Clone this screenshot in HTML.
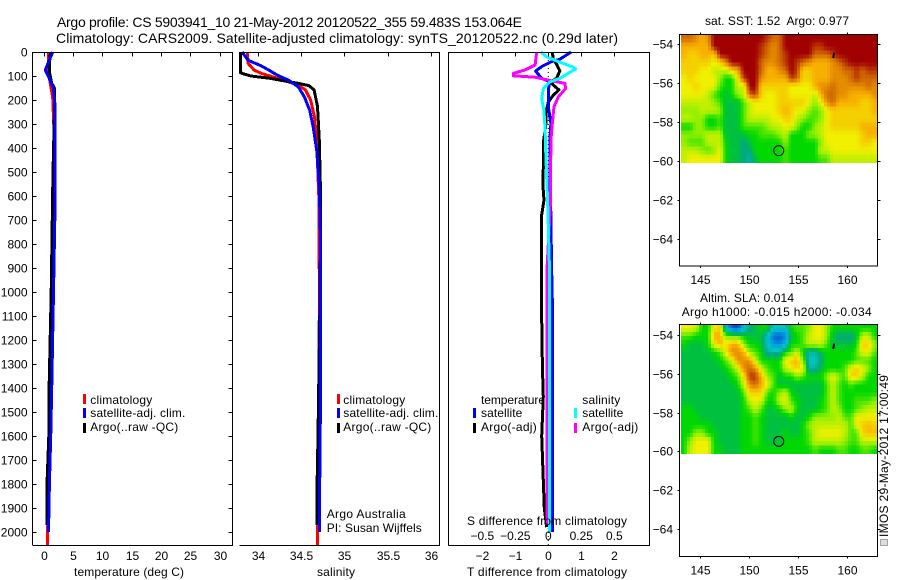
<!DOCTYPE html>
<html>
<head>
<meta charset="utf-8">
<title>Argo profile</title>
<style>
html,body{margin:0;padding:0;background:#fff;}
svg{display:block;}
text{font-family:"Liberation Sans",sans-serif;font-size:12px;fill:#000;}
.t14{font-size:14px;}
.sp{stroke:#000;stroke-width:1;fill:none;shape-rendering:crispEdges;}
.sw{shape-rendering:crispEdges;}
</style>
</head>
<body>
<svg id="chart" xmlns="http://www.w3.org/2000/svg" width="900" height="580" viewBox="0 0 900 580">
<rect width="900" height="580" fill="#fff"/>
<text class="t14" x="57" y="27" textLength="465">Argo profile: CS 5903941_10 21-May-2012 20120522_355 59.483S 153.064E</text>
<text class="t14" x="56" y="43" textLength="562">Climatology: CARS2009. Satellite-adjusted climatology: synTS_20120522.nc (0.29d later)</text>

<g id="maps"></g>
<g id="profiles"></g>
<g id="ticks"></g>

<path class="sp" d="M32.5 545V52.5H232.5V545.5H32.5"/>
<path class="sp" d="M239.5 52.5H439.5V545.5H239.5"/>
<path class="sp" d="M448.5 545.5V52.5H649.5V545.5H448.5"/>
<rect class="sp" x="679.5" y="34.5" width="198" height="231.5"/>
<rect class="sp" x="679.5" y="324.5" width="198" height="232"/>

<text x="74" y="576" textLength="110">temperature (deg C)</text>
<text x="317" y="576" textLength="38">salinity</text>
<text x="467" y="576" textLength="160">T difference from climatology</text>
<text x="467" y="525" textLength="160">S difference from climatology</text>

<g>
<rect class="sw" x="83" y="394" width="3" height="10" fill="#f00"/>
<text x="90.3" y="404" textLength="62">climatology</text>
<rect class="sw" x="83" y="408" width="3" height="10" fill="#00f"/>
<text x="90.3" y="417" textLength="95">satellite-adj. clim.</text>
<rect class="sw" x="83" y="423" width="3" height="10" fill="#000"/>
<text x="90.3" y="431" textLength="88">Argo(..raw -QC)</text>
</g>
<g>
<rect class="sw" x="337" y="394" width="3" height="10" fill="#f00"/>
<text x="343.3" y="404" textLength="62">climatology</text>
<rect class="sw" x="337" y="408" width="3" height="10" fill="#00f"/>
<text x="343.3" y="417" textLength="95">satellite-adj. clim.</text>
<rect class="sw" x="337" y="423" width="3" height="10" fill="#000"/>
<text x="343.3" y="431" textLength="88">Argo(..raw -QC)</text>
</g>
<text x="326.7" y="518" textLength="79">Argo Australia</text>
<text x="326.7" y="532" textLength="95">PI: Susan Wijffels</text>

<g>
<text x="481" y="404" textLength="64">temperature</text>
<rect class="sw" x="473" y="408" width="3" height="10" fill="#00f"/>
<text x="481" y="417" textLength="41.3">satellite</text>
<rect class="sw" x="473" y="423" width="3" height="10" fill="#000"/>
<text x="481" y="431" textLength="55.7">Argo(-adj)</text>
<text x="582.3" y="404" textLength="38">salinity</text>
<rect class="sw" x="574" y="408" width="3" height="10" fill="#0ff"/>
<text x="582.3" y="417" textLength="41">satellite</text>
<rect class="sw" x="574" y="423" width="3" height="10" fill="#f0f"/>
<text x="582.3" y="431" textLength="56">Argo(-adj)</text>
</g>

<text x="705" y="25" textLength="144" xml:space="preserve">sat. SST: 1.52  Argo: 0.977</text>
<text x="700" y="302" textLength="94">Altim. SLA: 0.014</text>
<text x="681.7" y="316" textLength="190">Argo h1000: -0.015 h2000: -0.034</text>

<text transform="translate(888,537) rotate(-90)" textLength="162">IMOS 29-May-2012 17:00:49</text>
<rect x="880.5" y="539.5" width="7" height="6" fill="#ddd" stroke="#555" stroke-width="1" stroke-dasharray="1 1" class="sw"/>
</svg>

<script>
// ---------- temperature profile (deg C vs depth, m) ----------
const tempClimDepth = [0, 90, 110, 190, 400, 800, 1200, 1600, 2000, 2055];
const tempClim = [0.82, 0.85, 1.0, 1.57, 1.9, 1.8, 1.5, 1.1, 0.7, 0.65];
const tempSatDepth = [0, 40, 75, 100, 150, 230, 600, 1000, 1400, 1600, 1800, 2000];
const tempSat = [1.57, 0.88, 0.3, 0.82, 1.67, 2.0, 2.0, 1.7, 1.4, 1.22, 1.0, 0.85];
const tempArgoDepth = [0, 50, 90, 130, 150, 200, 520, 1000, 1400, 1600, 1800, 1970];
const tempArgo = [1.2, 1.0, 1.05, 1.4, 1.85, 1.9, 1.6, 1.31, 0.95, 0.9, 0.6, 0.56];

// ---------- salinity profile ----------
const salClimDepth = [0, 48, 76, 90, 104, 125, 138, 158, 200, 270, 368, 600, 1000, 1500, 2000, 2055];
const salClim = [33.88, 33.89, 33.96, 34.05, 34.18, 34.36, 34.47, 34.55, 34.61, 34.655, 34.68, 34.705, 34.712, 34.705, 34.69, 34.69];
const salSatDepth = [0, 35, 56, 76, 97, 118, 146, 188, 243, 312, 410, 562, 800, 1400, 1800, 2000];
const salSat = [33.82, 33.89, 34.03, 34.13, 34.23, 34.36, 34.47, 34.54, 34.6, 34.64, 34.68, 34.71, 34.725, 34.725, 34.715, 34.71];
const salArgoDepth = [0, 85, 89, 100, 110, 120, 130, 140, 158, 227, 368, 600, 1000, 1600, 1800, 1970];
const salArgo = [33.8, 33.8, 33.82, 33.92, 34.15, 34.3, 34.46, 34.59, 34.65, 34.69, 34.71, 34.725, 34.72, 34.695, 34.685, 34.685];

// ---------- difference profiles ----------
const diffTSatDepth = [0, 30, 40, 61, 79, 110, 124, 158, 228, 297, 367, 561, 617, 900, 1033, 1436, 2000];
const diffTSat = [0.687, 0.354, 0.1, -0.2, -0.384, -0.2, 0.05, 0, 0, 0.08, 0.05, 0.05, 0.07, 0.1, 0.12, 0.13, 0.13];
const diffTArgoDepth = [0, 30, 50, 79, 110, 124, 138, 158, 180, 209, 250, 297, 367, 561, 617, 686, 1033, 1311, 1436, 1600, 1900, 1980];
const diffTArgo = [0.12, 0.15, 0.25, 0.35, 0.25, 0.08, 0.15, 0.32, 0.15, 0, -0.07, -0.07, -0.14, -0.16, -0.13, -0.21, -0.21, -0.18, -0.15, -0.2, -0.12, -0.05];
const diffSSatDepth = [0, 20, 40, 61, 71, 88, 110, 124, 152, 194, 243, 312, 437, 617, 890, 2000];
const diffSSat = [-0.056, -0.013, 0.076, 0.177, 0.207, 0.152, 0.088, 0.013, -0.038, -0.05, -0.033, -0.025, -0.018, -0.005, 0.008, 0.009];
const diffSArgoDepth = [0, 54, 75, 89, 99, 105, 117, 131, 152, 187, 228, 297, 367, 640, 890, 1300, 1970];
const diffSArgo = [-0.088, -0.1, -0.177, -0.265, -0.265, -0.1, 0, 0.126, 0.131, 0.076, 0.043, 0.03, 0.02, 0.015, -0.008, -0.011, -0.011];

// ---------- tick labels ----------
const depthTicks = [0,100,200,300,400,500,600,700,800,900,1000,1100,1200,1300,1400,1500,1600,1700,1800,1900,2000];
const tempTicks = [0,5,10,15,20,25,30];
const salTicks = [34,34.5,35,35.5,36];
const diffTTicks = [-2,-1,0,1,2];
const diffSTicks = [-0.5,-0.25,0,0.25,0.5];
const lonTicks = [145,150,155,160];
const latTicks = [-54,-56,-58,-60,-62,-64];

// ---------- map fields (colour level 0=deep blue ... 10=dark red), north to south ----------
const sstField = [
[9,9,8.5,8,8.5,10,10,10,10,10,10,10,10,10,9.5,9,9,10,10,10,10,10,10,10,10,10,10,10,10,10,10,10,10],
[8,8,8,8,8,10,10,10,10,10,10,10,10,9.5,9,8.5,9,10,10,10,10,10,9.5,9.5,10,10,10,10,10,10,10,10,10],
[8,7.5,7.5,8,8,7.5,10,10,10,10,10,10,10,9.5,9,8.5,9,9.5,10,10,10,10,9,9,9,9.5,10,10,10,10,10,10,10],
[7.5,7.5,7.5,7.5,7.5,7,7.5,8.5,10,10,10,10,10,9,8.5,8.5,9,9.5,10,9.5,9,8.5,8,8,8,8.5,9,9.5,10,10,10,10,10],
[7.5,7.5,7.5,7,7,6.5,6.5,6.5,7.5,8,10,10,10,9,8,8,8.5,9,10,9.5,7.5,7.5,8,8,8,8.5,8.5,9,9,9.5,9,9.5,9.5],
[7,7.5,7,7,7,7,6,5,5,7,9.5,10,10,8.5,8,8,8,8,9.5,9,7.5,7.5,8,8,8,8.5,8.5,8.5,9,9.5,9,9,9],
[7,7,7.5,7,7,7,5.5,5,5,6.5,6.5,10,10,7.5,7.5,7.5,7.5,7.5,7,7,7,7,8,8.5,8.5,9,8.5,8.5,8.5,8.5,8.5,9,8.5],
[7,7,7,7,6.5,5.5,5,4.5,5,6,6.5,9,9.5,7.5,7,7,7.5,7.5,7,7,7,7,6.5,8,9,9,8.5,8.5,8,8,8,8,8.5],
[6.5,6.5,6.5,6.5,6.5,6,5.5,4.5,4.5,4.5,5.5,6.5,7,7,7,7,7.5,7.5,7.5,7.5,7.5,7,6,7,8.5,9,8,8,8,8,7.5,7.5,8],
[6,6,6,6.5,6.5,6.5,6,4.5,4.5,4.5,5.5,6.5,7,7,7,7,7.5,8,7.5,7,7,6,5.5,6,7,7.5,7.5,7.5,7.5,7.5,7.5,7.5,8],
[6.5,6.5,6,6,5,5,5.5,4.5,4.5,4.5,5.5,6.5,6.5,6.5,6.5,7,7,7.5,7.5,6.5,6,5.5,5.5,6,7,7.5,7.5,7.5,7.5,7.5,7.5,7.5,7.5],
[5,5,6,6,5,5,5.5,4.5,4.5,4.5,5.5,5.5,5.5,5.5,6,6.5,6.5,7,7,6,5,5,6,6.5,7,7.5,7.5,7.5,7.5,7.5,8,8,8],
[6,6,6,6,6.5,6.5,6.5,4.5,4.5,4.5,4.5,5,5,5.5,5.5,5.5,6,6.5,5,5,5,6,6,6.5,7,7,7,7,7,7,7.5,8,8],
[6,5.5,5.5,5.5,6.5,6.5,6.5,5,4.5,4.5,4,4.5,5,5,5,5,5,6,5,5,5,5,5,6,7,7,7,7,7,7,7.5,7.5,7],
[6.5,6.5,6.5,6,5.5,6,7,5,4.5,4.5,4,4,5,5,5,5,5,5.5,5,5,5,5,5,6.5,6.5,7,7,7,7,7,7,7,7],
[6.5,7,7,7,7,7,7,5,4.5,4.5,4,3.5,4.5,5,5,5,5,5.5,5,5,5,5,5,5.5,5.5,6.5,6.5,6.5,6.5,6.5,6.5,6.5,6.5]
];
const slaField = [
[7,7,6.5,5,5,7,7.5,3,1,0.5,2.5,4,4.5,5,5,3,3,3,5,5.5,5.5,6,7,7,6,5,5,5,5,5,5,5,5],
[5.5,5.5,5,5,5,8,8,6,5.5,5.5,5,4.5,4.5,4.5,3,1.2,1,1.5,4.5,5,5.5,6.5,7,7,6,4.5,4,4,4,4.5,6.5,6.5,5],
[5,4.5,4.5,4.5,5,7,8,7,8,8,6,5,5,4.5,3,1.8,1.5,2.5,5,5,5.5,6.5,6.5,6.5,5.5,4.5,4.5,4.5,4.5,5,7.5,7.5,6],
[4.5,4.5,4.5,4.5,4.5,5,5.5,7,8.5,8.5,8,6,5.5,5,3.5,3.5,3.5,5,5.5,6.5,5,3.5,3.5,4.5,5,5,5,5,5,5.5,7,7,5.5],
[4.5,4.5,4.5,4.5,4.5,4.5,5,5.5,6.5,8.5,8.5,8.5,6.5,5,5,5,5,7,7.5,8,6,3,3,4,5,5,5,5,5,5.5,5.5,5.5,5],
[4.5,4.5,4.5,4.5,4.5,4.5,4.5,5,5.5,6.5,8.5,9,8.5,6.5,5.5,5,5,6.5,7,7.5,7,3.5,3.5,4.5,5,5,5,5.5,7,7.5,7,6,5],
[4.5,4.5,4.5,4.5,4.5,4.5,4.5,4.5,5,5.5,7,9.5,9.5,8,6,5.5,4.5,5,5,6,5.5,5,5,5,6,7,6,5.5,7.5,7.5,6.5,5,5],
[4.5,4.5,4.5,4.5,4.5,4.5,4.5,4.5,4.5,5,6.5,8.5,9,8,7,5.5,4.5,4.5,4.5,4.5,4.5,4.5,4.5,4.5,5.5,6.5,5.5,5,5.5,5,5,5,5],
[4.5,4.5,4.5,4.5,4.5,4.5,4.5,4.5,4.5,4.5,5.5,7.5,7.5,7.5,5.5,5,6,6.5,5,4.5,4.5,4.5,4.5,4.5,5.5,6.5,5.5,5,5,5,5,5,5],
[4.5,4.5,4.5,4.5,4.5,4.5,4.5,4.5,4.5,4.5,5,6.5,7,6.5,5,5,6.5,7,5.5,5,4.5,4.5,4.5,5,5.5,6.5,5.5,5,5,5.5,5.5,5.5,6],
[5,5,4.5,4.5,4.5,4.5,4.5,4.5,4.5,4.5,5,5.5,6.5,5.5,4.5,4.5,5,6,6.5,5,4.5,4.5,4.5,5,5.5,6.5,6,5,5,5.5,6,6.5,6.5],
[5,5,5,4.5,4.5,4.5,4.5,4.5,4.5,4.5,5,5,5.5,5,4.5,4.5,4.5,4.5,5,4.5,4.5,5,6,6,6,6,6.5,5.5,5.5,7,7,7,7],
[5,5,5,5,5,4.5,4.5,4.5,4.5,4.5,5,5,5.5,5,4.5,4.5,4.5,4.5,4.5,4.5,5,6,6.5,6.5,6.5,6.5,6.5,6.5,5.5,7,7.5,7.8,7.5],
[5,5,6,6,5,5,4.5,4.5,4.5,4.5,5,5,5.5,5,4.5,4.5,4.5,5,4.5,4.5,5,5.5,6.5,7,7,7,7,6.5,5.5,5.5,7.5,7.8,7.8],
[5,6,7,7,7,5,4.5,4.5,4.5,4.5,5,5,5.5,5,4.5,4.5,4.5,5,5,5,5,5.5,6.5,6.5,6.5,6.5,6.5,6,5.5,5.5,6.5,6.5,6.5],
[5,6.5,7,7,7,5,5,4.5,4.5,4.5,5,5,5,5,5,5,5,5,5,5,5,5,5.5,5,5,5,5.5,5.5,5,5,5.5,5.5,5]
];
const argoLon = [153.064];
const argoLat = [-59.483];
const trackLon = [158.72, 158.62];
const trackLat = [-54.45, -54.72];

// ---------- axis functions ----------
const profiles = document.getElementById('profiles');
const ticksG = document.getElementById('ticks');
const mapsG = document.getElementById('maps');
const NS = 'http://www.w3.org/2000/svg';
const yDepth = d => 52 + 0.24 * d;
const xTemp = v => 43.5 + 5.87 * v;
const xSal = v => 257.7 + 86.7 * (v - 34);
const xDiffT = v => 548.3 + 33 * v;
const xDiffS = v => 548.3 + 132 * v;
const xLon = v => 699.7 + 9.8 * (v - 145);
const ySst = v => 44 + 19.45 * (-54 - v);
const ySla = v => 335 + 19.4 * (-54 - v);
const stops = ['#0020b0','#0060d0','#00a0e0','#00c8c0','#00a880','#00d800','#90f000','#f0f000','#f8b000','#d26a00','#a00000'];

function mk(tag, attrs, parent) {
  const el = document.createElementNS(NS, tag);
  for (const k in attrs) el.setAttribute(k, attrs[k]);
  parent.appendChild(el);
  return el;
}
function levelColor(v) {
  const i = Math.max(0, Math.min(9, Math.floor(v)));
  const f = Math.max(0, Math.min(1, v - i));
  const a = parseInt(stops[i].slice(1), 16), b = parseInt(stops[i + 1].slice(1), 16);
  const ch = s => Math.round(((a >> s) & 255) * (1 - f) + ((b >> s) & 255) * f);
  return 'rgb(' + ch(16) + ',' + ch(8) + ',' + ch(0) + ')';
}

// ---------- profile lines ----------
function profile(depths, values, xf, color, seriesName) {
  const pts = depths.map((d, i) => xf(values[i]).toFixed(1) + ',' + yDepth(d).toFixed(1)).join(' ');
  const el = mk('polyline', {points: pts, fill: 'none', stroke: color, 'stroke-width': 3, 'stroke-linejoin': 'round', 'shape-rendering': 'crispEdges'}, profiles);
  
  
}
profile(tempClimDepth, tempClim, xTemp, '#f00', 'temperature-climatology-line');
profile(tempArgoDepth, tempArgo, xTemp, '#000', 'temperature-argo-line');
profile(tempSatDepth, tempSat, xTemp, '#00f', 'temperature-satellite-line');
profile(salClimDepth, salClim, xSal, '#f00', 'salinity-climatology-line');
profile(salArgoDepth, salArgo, xSal, '#000', 'salinity-argo-line');
profile(salSatDepth, salSat, xSal, '#00f', 'salinity-satellite-line');

const zeroLine = mk('line', {x1: xDiffT(0), x2: xDiffT(0), y1: 52, y2: 545, stroke: '#000', 'stroke-dasharray': '1 3'}, profiles);



profile(diffTArgoDepth, diffTArgo, xDiffT, '#000', 'difference-t-argo-line');
profile(diffTSatDepth, diffTSat, xDiffT, '#00f', 'difference-t-satellite-line');
profile(diffSArgoDepth, diffSArgo, xDiffS, '#f0f', 'difference-s-argo-line');
profile(diffSSatDepth, diffSSat, xDiffS, '#0ff', 'difference-s-satellite-line');

// ---------- ticks and tick labels ----------
function tickMark(x1, y1, x2, y2) {
  const t = mk('line', {x1: x1, y1: y1, x2: x2, y2: y2, stroke: '#000', 'shape-rendering': 'crispEdges'}, ticksG);
  
  
}
function tickLabel(x, y, s, anchor) {
  const t = mk('text', {x: x, y: y, 'text-anchor': anchor}, ticksG);
  t.textContent = String(s).replace(/^-/, '\u2212');
  
  
}
depthTicks.forEach(d => {
  const y = Math.round(yDepth(d)) + 0.5;
  tickMark(32.5, y, 36.5, y);
  tickMark(228.5, y, 232.5, y);
  tickLabel(27.5, y + 4, d, 'end');
});
tempTicks.forEach(v => {
  const x = Math.round(xTemp(v)) + 0.5;
  tickMark(x, 52.5, x, 56.5);
  tickLabel(x, 560, v, 'middle');
});
salTicks.forEach(v => {
  const x = Math.round(xSal(v)) + 0.5;
  tickMark(x, 52.5, x, 56.5);
  tickLabel(x, 560, v, 'middle');
});
diffTTicks.forEach(v => {
  const x = Math.round(xDiffT(v)) + 0.5;
  tickMark(x, 52.5, x, 56.5);
  tickLabel(x, 560, v, 'middle');
});
diffSTicks.forEach(v => {
  tickLabel(xDiffS(v), 540, v, 'middle');
});
function mapAxes(yf, top, bottom) {
  lonTicks.forEach(v => {
    const x = Math.round(xLon(v)) + 0.5;
    tickMark(x, top - 2, x, top);
    tickMark(x, bottom, x, bottom + 2);
    tickLabel(x, bottom + 18, v, 'middle');
  });
  latTicks.forEach(v => {
    const y = Math.round(yf(v)) + 0.5;
    tickMark(677.5, y, 679.5, y);
    tickMark(877.5, y, 880.5, y);
    tickLabel(673, y + 4, v, 'end');
  });
}
mapAxes(ySst, 34.5, 266);
mapAxes(ySla, 324.5, 556.5);

// ---------- map heat cells (each stored value blended with neighbours on a 2x display grid) ----------
function sampleField(field, u, v) {
  const nr = field.length, nc = field[0].length;
  const cu = Math.max(0, Math.min(nc - 1, u)), cv = Math.max(0, Math.min(nr - 1, v));
  const c0 = Math.floor(cu), r0 = Math.floor(cv);
  const c1 = Math.min(nc - 1, c0 + 1), r1 = Math.min(nr - 1, r0 + 1);
  const fu = cu - c0, fv = cv - r0;
  return (field[r0][c0] * (1 - fu) + field[r0][c1] * fu) * (1 - fv) + (field[r1][c0] * (1 - fu) + field[r1][c1] * fu) * fv;
}
function drawField(field, yf, latTop, latBottom, fieldName) {
  const lonLeft = 143.1, lonRight = 163.15;
  const nr = field.length * 2, nc = field[0].length * 2;
  const dLon = (lonRight - lonLeft) / nc, dLat = (latTop - latBottom) / nr;
  for (let r = 0; r < nr; r++) {
    for (let c = 0; c < nc; c++) {
      const v = sampleField(field, (c + 0.5) / 2 - 0.5, (r + 0.5) / 2 - 0.5);
      const x0 = xLon(lonLeft + c * dLon), x1 = xLon(lonLeft + (c + 1) * dLon);
      const y0 = yf(latTop - r * dLat), y1 = yf(latTop - (r + 1) * dLat);
      const cell = mk('rect', {x: x0.toFixed(1), y: y0.toFixed(1), width: (x1 - x0 + 0.6).toFixed(1), height: (y1 - y0 + 0.6).toFixed(1), fill: levelColor(v), 'shape-rendering': 'crispEdges'}, mapsG);
      
      
    }
  }
}
drawField(sstField, ySst, -53.5, -60.1, 'sst-cell');
drawField(slaField, ySla, -53.43, -60.1, 'sla-cell');

function drawMarkers(yf) {
  const circ = mk('circle', {cx: xLon(argoLon[0]), cy: yf(argoLat[0]), r: 5, fill: 'none', stroke: '#000', 'stroke-width': 1}, mapsG);
  
  
  const trk = mk('line', {x1: xLon(trackLon[0]), y1: yf(trackLat[0]), x2: xLon(trackLon[1]), y2: yf(trackLat[1]), stroke: '#000', 'stroke-width': 2}, mapsG);
  
  
}
drawMarkers(ySst);
drawMarkers(ySla);
</script>
</body>
</html>
